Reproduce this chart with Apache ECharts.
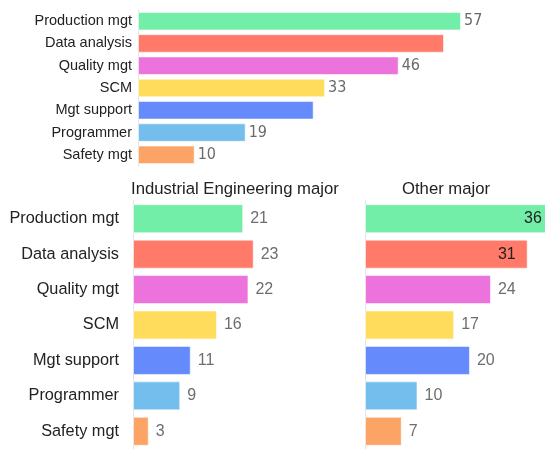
<!DOCTYPE html>
<html>
<head>
<meta charset="utf-8">
<script src="https://cdn.jsdelivr.net/npm/echarts@6/dist/echarts.min.js"></script>
<style>
  html, body { margin: 0; padding: 0; background: #fff; }
  #chart { width: 545px; height: 449px; }
</style>
</head>
<body>
<div id="chart"></div>
<script>
// Job categories, top to bottom
const categories = ['Production mgt', 'Data analysis', 'Quality mgt', 'SCM', 'Mgt support', 'Programmer', 'Safety mgt'];
// Respondents in total and split by major
const totalCounts = [57, 54, 46, 33, 31, 19, 10];
const ieCounts = [21, 23, 22, 16, 11, 9, 3];
const otherCounts = [36, 31, 24, 17, 20, 10, 7];
// Panel titles
const panelTitles = ['Industrial Engineering major', 'Other major'];

const barColors = ['#73EEA8', '#FF7A68', '#EC72DC', '#FFDC5B', '#648AFB', '#73BEEC', '#FBA466'];
const totalHiddenLabels = ['Data analysis', 'Mgt support'];
const otherInsideLabels = ['Production mgt', 'Data analysis'];

const FONT = 'Arial, "Liberation Sans", sans-serif';
const NARROW = '"Liberation Sans Narrow", "DejaVu Sans Condensed", Arial, sans-serif';

function itemStyleFor(i) {
  return { color: barColors[i], borderColor: 'rgba(255,255,255,0.55)', borderWidth: 1 };
}

const totalData = totalCounts.map((v, i) => ({
  value: v,
  itemStyle: itemStyleFor(i),
  label: { show: totalHiddenLabels.indexOf(categories[i]) < 0 }
}));
const ieData = ieCounts.map((v, i) => ({ value: v, itemStyle: itemStyleFor(i) }));
const otherData = otherCounts.map((v, i) => {
  const inside = otherInsideLabels.indexOf(categories[i]) >= 0;
  return {
    value: v,
    itemStyle: itemStyleFor(i),
    label: inside ? { position: 'insideRight', distance: 12, color: '#222' } : {}
  };
});

const axisLineStyle = { show: true, lineStyle: { color: '#e4e4e4', width: 1 } };
// both lower panels share one scale; the right panel runs to the page edge
const lowerMax = 34.3;

const chart = echarts.init(document.getElementById('chart'));
chart.setOption({
  animation: false,
  title: [
    { text: panelTitles[0], left: 126, top: 176,
      textStyle: { fontFamily: FONT, fontSize: 16.7, fontWeight: 'normal', color: '#222' } },
    { text: panelTitles[1], left: 397, top: 176,
      textStyle: { fontFamily: FONT, fontSize: 16.7, fontWeight: 'normal', color: '#222' } }
  ],
  grid: [
    { left: 138, top: 10, width: 340, height: 156 },
    { left: 133, top: 201, width: 180, height: 250 },
    { left: 365, top: 201, width: 180, height: 250 }
  ],
  xAxis: [0, 1, 2].map((g) => ({
    type: 'value', gridIndex: g, min: 0, max: g === 0 ? 60 : lowerMax,
    show: false
  })),
  yAxis: [0, 1, 2].map((g) => ({
    type: 'category', gridIndex: g, data: categories, inverse: true,
    axisLine: axisLineStyle, axisTick: { show: false }, splitLine: { show: false },
    axisLabel: {
      show: g !== 2,
      margin: g === 0 ? 6 : 14,
      fontFamily: FONT,
      fontSize: g === 0 ? 14.5 : 16.3,
      color: '#222'
    }
  })),
  series: [
    {
      type: 'bar', xAxisIndex: 0, yAxisIndex: 0, data: totalData, barWidth: 18.5,
      label: { show: true, position: 'right', distance: 3, fontFamily: NARROW, fontSize: 16, color: '#6a6a6a' }
    },
    {
      type: 'bar', xAxisIndex: 1, yAxisIndex: 1, data: ieData, barWidth: 29, clip: false,
      label: { show: true, position: 'right', distance: 7, fontFamily: FONT, fontSize: 16, color: '#6e6e6e' }
    },
    {
      type: 'bar', xAxisIndex: 2, yAxisIndex: 2, data: otherData, barWidth: 29, clip: false,
      label: { show: true, position: 'right', distance: 7, fontFamily: FONT, fontSize: 16, color: '#6e6e6e' }
    }
  ]
});
</script>
</body>
</html>
